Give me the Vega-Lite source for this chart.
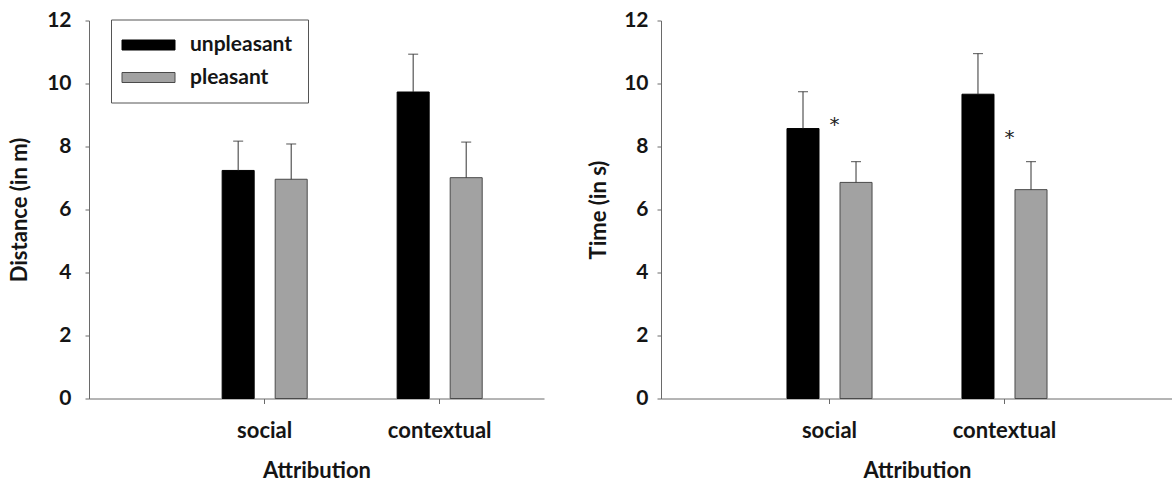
{
  "$schema": "https://vega.github.io/schema/vega-lite/v6.json",
  "padding": {"left": 8, "top": 9.5, "right": 0, "bottom": 0},
  "background": "white",
  "config": {
    "font": "Lato",
    "view": {"stroke": null},
    "concat": {"spacing": 43},
    "axis": {
      "grid": false,
      "labelFont": "Lato",
      "labelFontWeight": "bold",
      "labelFontSize": 21,
      "labelColor": "#151515",
      "titleFont": "Lato",
      "titleFontWeight": "bold",
      "titleFontSize": 22,
      "titleColor": "#151515",
      "domainColor": "#6a6a6a",
      "tickColor": "#6a6a6a"
    },
    "legend": {
      "labelFont": "Lato",
      "labelFontWeight": "bold",
      "labelFontSize": 21,
      "labelColor": "#151515"
    }
  },
  "datasets": {
    "distance": [
      {"attribution": "social", "valence": "unpleasant", "mean": 7.24, "upper": 8.17},
      {"attribution": "social", "valence": "pleasant", "mean": 6.96, "upper": 8.08},
      {"attribution": "contextual", "valence": "unpleasant", "mean": 9.73, "upper": 10.93},
      {"attribution": "contextual", "valence": "pleasant", "mean": 7.01, "upper": 8.14}
    ],
    "time": [
      {"attribution": "social", "valence": "unpleasant", "mean": 8.57, "upper": 9.74},
      {"attribution": "social", "valence": "pleasant", "mean": 6.86, "upper": 7.52},
      {"attribution": "contextual", "valence": "unpleasant", "mean": 9.66, "upper": 10.95},
      {"attribution": "contextual", "valence": "pleasant", "mean": 6.63, "upper": 7.52}
    ],
    "significance": [
      {"attribution": "social", "label": "*", "y": 8.7},
      {"attribution": "contextual", "label": "*", "y": 8.3}
    ]
  },
  "hconcat": [
    {
      "width": 455,
      "height": 378,
      "data": {"name": "distance"},
      "encoding": {
        "x": {
          "field": "attribution",
          "type": "nominal",
          "sort": ["social", "contextual"],
          "scale": {"paddingInner": 0.514, "paddingOuter": 0.557, "align": 0.683},
          "axis": {"title": "Attribution", "labelAngle": 0, "tickSize": 5, "labelFontSize": 22, "labelPadding": 17, "titlePadding": 19}
        },
        "xOffset": {
          "field": "valence",
          "type": "nominal",
          "sort": ["unpleasant", "pleasant"],
          "scale": {"paddingInner": 0.396, "paddingOuter": 0}
        }
      },
      "layer": [
        {
          "mark": {"type": "bar", "strokeWidth": 1},
          "encoding": {
            "y": {
              "field": "mean",
              "type": "quantitative",
              "scale": {"domain": [0, 12], "nice": false},
              "axis": {"title": "Distance (in m)", "values": [0, 2, 4, 6, 8, 10, 12], "tickSize": 4, "labelPadding": 14, "titlePadding": 15}
            },
            "fill": {
              "field": "valence",
              "type": "nominal",
              "scale": {"domain": ["unpleasant", "pleasant"], "range": ["#000000", "#a2a2a2"]},
              "legend": {
                "title": null,
                "orient": "none",
                "legendX": 22,
                "legendY": -1,
                "strokeColor": "#555555",
                "fillColor": "white",
                "padding": 15,
                "symbolType": "M-2.65,-0.5H2.65V0.5H-2.65Z",
                "symbolSize": 400,
                "symbolOffset": 12,
                "labelOffset": 31,
                "rowPadding": 10.5,
                "symbolStrokeColor": "#444444",
                "symbolStrokeWidth": 1,
                "symbolOpacity": 1
              }
            },
            "stroke": {
              "field": "valence",
              "type": "nominal",
              "scale": {"domain": ["unpleasant", "pleasant"], "range": ["#000000", "#4a4a4a"]},
              "legend": null
            }
          }
        },
        {
          "mark": {"type": "rule", "color": "#333333", "strokeWidth": 1},
          "encoding": {
            "y": {"field": "mean", "type": "quantitative"},
            "y2": {"field": "upper"}
          }
        },
        {
          "mark": {"type": "tick", "orient": "horizontal", "color": "#333333", "size": 10, "thickness": 1.2},
          "encoding": {
            "y": {"field": "upper", "type": "quantitative"}
          }
        }
      ]
    },
    {
      "width": 512,
      "height": 378,
      "layer": [
        {
          "data": {"name": "time"},
          "mark": {"type": "bar", "strokeWidth": 1},
          "encoding": {
            "x": {
              "field": "attribution",
              "type": "nominal",
              "sort": ["social", "contextual"],
              "scale": {"paddingInner": 0.514, "paddingOuter": 0.72, "align": 0.5},
              "axis": {"title": "Attribution", "labelAngle": 0, "tickSize": 5, "labelFontSize": 22, "labelPadding": 17, "titlePadding": 19}
            },
            "xOffset": {
              "field": "valence",
              "type": "nominal",
              "sort": ["unpleasant", "pleasant"],
              "scale": {"paddingInner": 0.396, "paddingOuter": 0}
            },
            "y": {
              "field": "mean",
              "type": "quantitative",
              "scale": {"domain": [0, 12], "nice": false},
              "axis": {"title": "Time (in s)", "values": [0, 2, 4, 6, 8, 10, 12], "tickSize": 4, "labelPadding": 9, "titlePadding": 13}
            },
            "fill": {
              "field": "valence",
              "type": "nominal",
              "scale": {"domain": ["unpleasant", "pleasant"], "range": ["#000000", "#a2a2a2"]},
              "legend": null
            },
            "stroke": {
              "field": "valence",
              "type": "nominal",
              "scale": {"domain": ["unpleasant", "pleasant"], "range": ["#000000", "#4a4a4a"]},
              "legend": null
            }
          }
        },
        {
          "data": {"name": "time"},
          "mark": {"type": "rule", "color": "#333333", "strokeWidth": 1},
          "encoding": {
            "x": {"field": "attribution", "type": "nominal", "sort": ["social", "contextual"]},
            "xOffset": {"field": "valence", "type": "nominal", "sort": ["unpleasant", "pleasant"]},
            "y": {"field": "mean", "type": "quantitative"},
            "y2": {"field": "upper"}
          }
        },
        {
          "data": {"name": "time"},
          "mark": {"type": "tick", "orient": "horizontal", "color": "#333333", "size": 10, "thickness": 1.2},
          "encoding": {
            "x": {"field": "attribution", "type": "nominal", "sort": ["social", "contextual"]},
            "xOffset": {"field": "valence", "type": "nominal", "sort": ["unpleasant", "pleasant"]},
            "y": {"field": "upper", "type": "quantitative"}
          }
        },
        {
          "data": {"name": "significance"},
          "mark": {"type": "text", "font": "DejaVu Sans", "fontSize": 20, "color": "#222222", "dx": 5, "dy": 1, "baseline": "middle"},
          "encoding": {
            "x": {"field": "attribution", "type": "nominal", "sort": ["social", "contextual"]},
            "y": {"field": "y", "type": "quantitative"},
            "text": {"field": "label"}
          }
        }
      ]
    }
  ]
}
